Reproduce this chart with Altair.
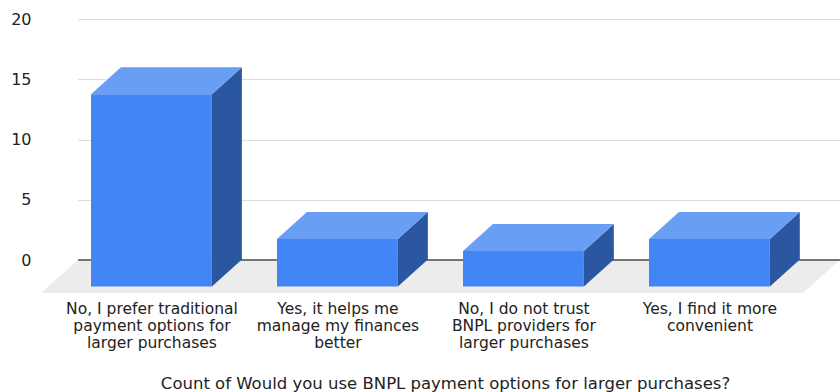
import json
import pandas as pd
import altair as alt

# ---- data ----
categories = [
    "No, I prefer traditional payment options for larger purchases",
    "Yes, it helps me manage my finances better",
    "No, I do not trust BNPL providers for larger purchases",
    "Yes, I find it more convenient",
]
label_lines = [
    ["No, I prefer traditional", "payment options for", "larger purchases"],
    ["Yes, it helps me", "manage my finances", "better"],
    ["No, I do not trust", "BNPL providers for", "larger purchases"],
    ["Yes, I find it more", "convenient"],
]
counts = [14, 2, 1, 2]
y_ticks = [0, 5, 10, 15, 20]
x_title = "Count of Would you use BNPL payment options for larger purchases?"

# ---- 3D styling constants (in scale units) ----
HALF = 0.325      # half width of a bar front face (slot units)
DX = 0.161        # depth offset along x
DY = 2.24         # depth offset along y
BASE = -2.2       # front-face bottom
TOP_OFF = -0.25   # front-face top offset from the value
FLOOR_Y = -2.74
FLOOR_DX = 0.199
XMIN, XMAX = -0.395, 3.702
W, H = 762, 241

FRONT = "#4285f4"
TOPC = "#699ef5"
SIDE = "#2b57a0"
FLOOR = "#ececec"

front_rows, top_rows, side_rows = [], [], []
for i, v in enumerate(counts):
    xl, xr = i - HALF, i + HALF
    top = v + TOP_OFF
    front_rows.append({"bar": i, "cat": categories[i], "count": v, "x": xl, "x2": xr, "y": BASE, "y2": top})
    top_rows += [
        {"bar": i, "x": xl, "y": top, "y2": top},
        {"bar": i, "x": xl + DX, "y": top, "y2": top + DY},
        {"bar": i, "x": xr, "y": top, "y2": top + DY},
        {"bar": i, "x": xr + DX, "y": top + DY, "y2": top + DY},
    ]
    side_rows += [
        {"bar": i, "x": xr, "y": BASE, "y2": top},
        {"bar": i, "x": xr + DX, "y": BASE + DY, "y2": top + DY},
    ]
floor_rows = [
    {"x": XMIN - FLOOR_DX, "y": FLOOR_Y, "y2": FLOOR_Y},
    {"x": XMIN, "y": FLOOR_Y, "y2": 0},
    {"x": XMAX - FLOOR_DX, "y": FLOOR_Y, "y2": 0},
    {"x": XMAX, "y": 0, "y2": 0},
]

front_df = pd.DataFrame(front_rows)
top_df = pd.DataFrame(top_rows)
side_df = pd.DataFrame(side_rows)
floor_df = pd.DataFrame(floor_rows)

FONT = "DejaVu Sans"

x_axis = alt.Axis(
    values=list(range(len(categories))),
    labelExpr=json.dumps(label_lines) + "[datum.value]",
    domain=False, ticks=False, grid=False,
    labelFont=FONT, labelFontSize=15.5, labelColor="#222222",
    labelLineHeight=17, labelPadding=41, labelOverlap=False, labelBound=False,
    labelFlush=False,
    title=x_title, titleFont=FONT, titleFontSize=16.5, titleFontWeight="normal",
    titleColor="#222222", titleX=367, titleY=128, titleBaseline="alphabetic",
    titleAlign="center",
)
y_axis = alt.Axis(
    values=y_ticks, grid=True, gridColor="#dddddd", gridWidth=1,
    domain=False, ticks=False, tickSize=0, labelPadding=47,
    labelFont=FONT, labelFontSize=16, labelColor="#222222", title=None,
)
xs = alt.Scale(domain=[XMIN, XMAX], nice=False, zero=False)
ys = alt.Scale(domain=[0, 20], nice=False, zero=False)


def X():
    return alt.X("x:Q", scale=xs, axis=x_axis)


def Y():
    return alt.Y("y:Q", scale=ys, axis=y_axis)


floor = alt.Chart(floor_df).mark_area(color=FLOOR, orient="vertical", interpolate="linear").encode(
    x=X(), y=Y(), y2="y2:Q"
)
zero = alt.Chart(floor_df).mark_rule(color="#757575", strokeWidth=2).encode(
    y=alt.datum(0, scale=ys), x=alt.value(0), x2=alt.value(W)
)
front = alt.Chart(front_df).mark_rect(color=FRONT).encode(
    x=X(), x2="x2:Q", y=Y(), y2="y2:Q"
)
topface = alt.Chart(top_df).mark_area(color=TOPC, orient="vertical", interpolate="linear").encode(
    x=X(), y=Y(), y2="y2:Q", detail="bar:N"
)
side = alt.Chart(side_df).mark_area(color=SIDE, orient="vertical", interpolate="linear").encode(
    x=X(), y=Y(), y2="y2:Q", detail="bar:N"
)

chart = alt.layer(floor, zero, side, topface, front).properties(
    width=W, height=H,
    autosize=alt.AutoSizeParams(type="none"),
    padding={"left": 78, "top": 19, "right": 0, "bottom": 132},
    background="white",
).configure_view(stroke=None)

chart.save("out.html", embed_options={"renderer": "svg", "actions": False})
